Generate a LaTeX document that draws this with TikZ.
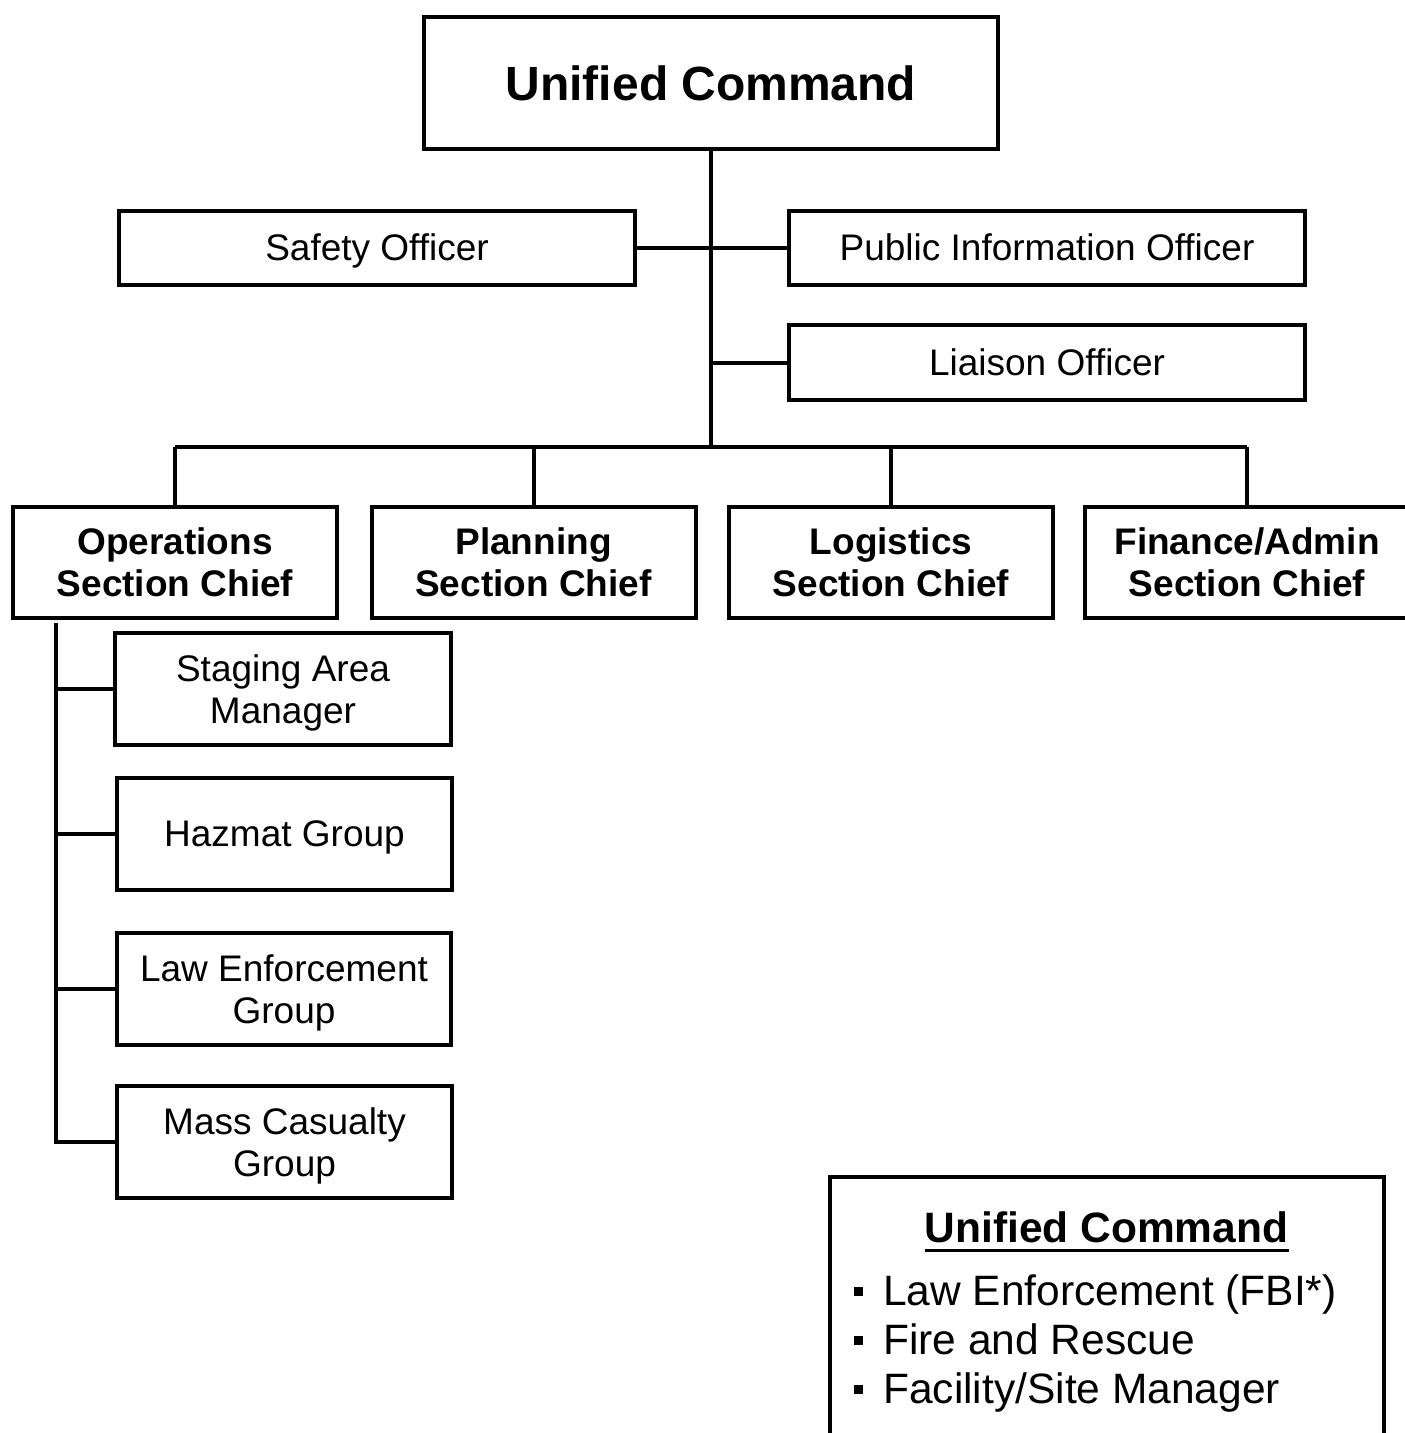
\documentclass[tikz,border=0pt]{standalone}
\usepackage{fontspec}
\setmainfont{Liberation Sans}
\usetikzlibrary{calc}
\begin{document}
\begin{tikzpicture}[x=1pt,y=-1pt,
  lw/.style={line width=4pt},
  box/.style={draw,line width=4pt,inner sep=0pt,align=center,text depth=0pt,
    font=\fontsize{37}{42}\selectfont},
  sbox/.style={box,minimum width=516pt,minimum height=74pt},
  secbox/.style={box,minimum width=324pt,minimum height=111pt,
    font=\fontsize{37}{42}\selectfont\bfseries},
  subbox/.style={box,minimum width=336pt,minimum height=112pt},
  conn/.style={line width=4pt,line join=miter},
  legtxt/.style={inner sep=0pt,anchor=base west,font=\fontsize{42.5}{49}\selectfont}
]
\clip (0,0) rectangle (1405,1433);
\fill[white] (0,0) rectangle (1405,1433);

% top
\node[box,minimum width=574pt,minimum height=132pt,
  font=\fontsize{48}{54}\selectfont\bfseries] (uc) at (711,83) {Unified Command};

% staff
\node[sbox] (safety) at (377,247.5) {Safety Officer};
\node[sbox] (pio) at (1047,247.5) {Public Information Officer};
\node[sbox,minimum height=75pt] (liaison) at (1047,362.5) {Liaison Officer};

% sections
\node[secbox] (ops) at (175,562.5) {Operations\\Section Chief};
\node[secbox] (plan) at (533.5,562.5) {Planning\\Section Chief};
\node[secbox] (logi) at (891,562.5) {Logistics\\Section Chief};
\node[secbox] (fin) at (1247,562.5) {Finance/Admin\\Section Chief};

% operations groups
\node[subbox] (stage) at (283,689) {Staging Area\\Manager};
\node[subbox,minimum width=335pt] (hazmat) at (284.5,834) {Hazmat Group};
\node[subbox,minimum width=334pt] (law) at (284,989) {Law Enforcement\\Group};
\node[subbox,minimum width=335pt] (mass) at (284.5,1142) {Mass Casualty\\Group};

% connectors
\coordinate (busC) at (711,447);
\coordinate (busL) at (ops.north |- busC);
\coordinate (busR) at (fin.north |- busC);
\draw[conn] (uc.south) -- (busC);
\draw[conn] (safety.east) -- (pio.west);
\draw[conn] (liaison.west) -- (liaison.west -| uc.south);
\draw[conn] (busL) -- (busR);
\draw[conn] (ops.north) -- (busL);
\draw[conn] (plan.north) -- (plan.north |- busC);
\draw[conn] (logi.north) -- (logi.north |- busC);
\draw[conn] (fin.north) -- (busR);

\coordinate (opsT) at ([xshift=45pt,yshift=-3pt]ops.south west);
\draw[conn] (opsT) |- (mass.west);
\draw[conn] (stage.west) -- (stage.west -| opsT);
\draw[conn] (hazmat.west) -- (hazmat.west -| opsT);
\draw[conn] (law.west) -- (law.west -| opsT);

% legend
\draw[lw] (830,1445) -- (830,1177) -- (1384,1177) -- (1384,1445);
\node[inner sep=0pt,anchor=base,font=\fontsize{42.5}{49}\selectfont\bfseries]
  (legtitle) at (1106.5,1242) {Unified Command};
\draw[line width=3pt] ([yshift=-8pt]legtitle.base west) -- ([yshift=-8pt]legtitle.base east);
\node[legtxt] (it1) at (883,1305) {Law Enforcement (FBI*)};
\node[legtxt] (it2) at (883,1354) {Fire and Rescue};
\node[legtxt] (it3) at (883,1403) {Facility/Site Manager};
\foreach \i in {it1,it2,it3}
  \fill ([shift={(-29,-18.5)}]\i.base west) rectangle ++(9,9);
\end{tikzpicture}
\end{document}
